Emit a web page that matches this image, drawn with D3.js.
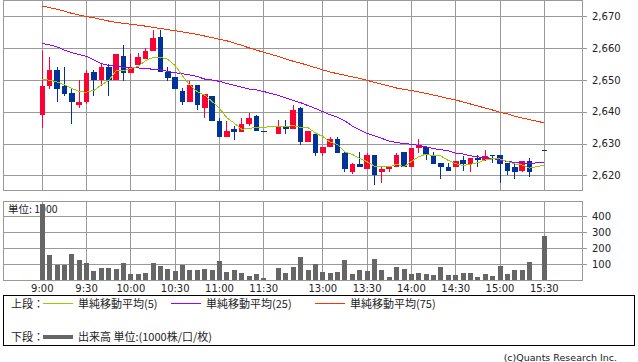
<!DOCTYPE html>
<html>
<head>
<meta charset="utf-8">
<script src="https://cdn.jsdelivr.net/npm/d3@7.9.0/dist/d3.min.js"></script>
<style>
  html, body { margin: 0; padding: 0; background: #fff; }
  svg { display: block; }
  text { font-family: "DejaVu Sans", sans-serif; fill: #222; }
  .jp { font-family: "Noto Sans CJK JP", sans-serif; }
</style>
</head>
<body>
<svg id="chart" width="638" height="362"></svg>
<script>
// x axis: bar slots (5 min), 9:00 = slot 0, 15:30 = slot 68; slots 31 and 67 are empty
const timeLabels = ['9:00', '9:30', '10:00', '10:30', '11:00', '11:30', '13:00', '13:30', '14:00', '14:30', '15:00', '15:30'];
const timeSlots  = [0, 6, 12, 18, 24, 30, 38, 44, 50, 56, 62, 68];
const priceTicks  = [2620, 2630, 2640, 2650, 2660, 2670];
const volumeTicks = [100, 200, 300, 400];

const open = [
  2639, 2648, 2653, 2648, 2646, 2642, 2643, 2652.5, 2650, 2654,
  2650, 2657.5, 2652, 2654.5, 2656.5, 2659, 2663.5, 2652.5, 2651, 2646.5,
  2643, 2648.5, 2641, 2645, 2637, 2632, 2634.5, 2633.5, 2636, 2638.5,
  2634, null, 2633, 2635.5, 2634.5, 2641, 2630.5, 2633, 2627, 2629,
  2631.5, 2627, 2621, 2623.5, 2622, 2626.5, 2621, 2622, 2622.5, 2627.5,
  2622.5, 2628.5, 2629, 2626.5, 2624, 2622.5, 2622.5, 2625, 2623.5, 2625.5,
  2625, 2626.5, 2626.5, 2624, 2622.5, 2621.5, 2624.5, null, 2628
];
const high = [
  2659, 2657, 2654, 2654, 2647, 2650, 2653, 2653, 2655, 2655,
  2658, 2661, 2658, 2658.5, 2660, 2665.5, 2665.5, 2654, 2651, 2647.5,
  2649.5, 2648.5, 2645.5, 2645, 2638, 2637, 2635.5, 2638, 2639.5, 2639,
  2634, null, 2637.5, 2637.5, 2642, 2641.5, 2634, 2633.5, 2629, 2632,
  2632, 2627.5, 2624, 2627.5, 2627, 2626.5, 2622.5, 2622.5, 2627, 2627.5,
  2628.5, 2631.5, 2629, 2627.5, 2624, 2624, 2624.5, 2626, 2625.5, 2626.5,
  2628, 2626.5, 2626.5, 2624, 2624, 2624.5, 2625.5, null, 2628
];
const low = [
  2635, 2647, 2643, 2645, 2636, 2641, 2642.5, 2645, 2648, 2645,
  2650, 2649.5, 2652, 2654.5, 2656.5, 2659, 2652.5, 2649.5, 2647, 2642,
  2643, 2640.5, 2638, 2637, 2632, 2632, 2631, 2633.5, 2635.5, 2634,
  2634, null, 2633, 2633, 2634.5, 2629.5, 2630.5, 2626, 2626, 2629,
  2627, 2621, 2620.5, 2622.5, 2622, 2617, 2617.5, 2621, 2622.5, 2622.5,
  2622.5, 2627, 2625, 2623.5, 2619, 2621.5, 2622.5, 2621.5, 2621, 2622.5,
  2624.5, 2624, 2617.5, 2620, 2619, 2621, 2619.5, null, 2628
];
const close = [
  2648, 2653, 2647, 2645.5, 2643, 2643, 2652, 2650, 2654, 2650,
  2658, 2652, 2654, 2657, 2659, 2663, 2652.5, 2650.5, 2647, 2643,
  2648.5, 2642, 2645.5, 2637, 2632, 2634, 2633.5, 2636, 2638, 2634,
  2634, null, 2635.5, 2634.5, 2640.5, 2630.5, 2634, 2627, 2629, 2631.5,
  2627, 2622, 2623.5, 2622.5, 2626.5, 2620, 2622, 2622.5, 2626.5, 2622.5,
  2628.5, 2629.5, 2626.5, 2623.5, 2622.5, 2621.5, 2624.5, 2623.5, 2625.5, 2625,
  2626, 2626, 2623.5, 2621.5, 2621, 2624.5, 2621, null, 2628
];
// volume, 1000 shares
const volume = [
  475, 158, 96, 96, 164, 127, 108, 58, 77, 77,
  70, 108, 39, 39, 45, 108, 89, 70, 58, 96,
  64, 64, 70, 64, 121, 52, 64, 45, 27, 39,
  14, null, 77, 45, 83, 146, 64, 100, 50, 44,
  50, 127, 37, 62, 56, 133, 62, 21, 83, 69,
  37, 44, 37, 31, 83, 31, 31, 44, 44, 19,
  37, 25, 87, 37, 62, 62, 112, null, 275
];
const ma5 = [
  2650.0, 2649.9, 2649.3, 2648.4, 2647.3, 2646.3, 2646.1, 2646.7, 2648.4, 2649.8,
  2652.8, 2652.8, 2653.6, 2654.2, 2656.0, 2657.0, 2657.1, 2656.4, 2654.4, 2651.2,
  2648.3, 2646.2, 2645.2, 2643.2, 2641.0, 2638.1, 2636.4, 2634.5, 2634.7, 2635.1,
  2635.1, null, 2635.5, 2635.2, 2635.7, 2635.0, 2635.0, 2633.3, 2632.2, 2630.4,
  2629.7, 2627.3, 2626.6, 2625.3, 2624.3, 2622.9, 2622.9, 2622.7, 2623.5, 2622.7,
  2624.4, 2625.9, 2626.7, 2626.1, 2626.1, 2624.7, 2623.7, 2623.1, 2623.5, 2624.0,
  2624.9, 2625.2, 2625.2, 2624.4, 2623.6, 2623.3, 2622.3, null, 2623.2
];
const ma25 = [
  2661.4, 2660.9, 2660.3, 2659.3, 2658.5, 2657.9, 2657.3, 2656.2, 2655.1, 2654.5,
  2654.2, 2653.9, 2653.8, 2653.7, 2653.5, 2653.3, 2653.1, 2652.6, 2652.2, 2651.9,
  2651.5, 2651.0, 2650.2, 2649.9, 2649.5, 2648.8, 2648.3, 2647.7, 2647.1, 2646.8,
  2646.3, null, 2645.1, 2644.3, 2643.5, 2642.8, 2641.9, 2641.0, 2640.0, 2639.0,
  2638.3, 2637.1, 2635.5, 2634.3, 2633.2, 2632.4, 2631.6, 2630.8, 2630.3, 2630.0,
  2629.8, 2629.4, 2629.0, 2628.4, 2628.1, 2627.7, 2627.0, 2626.7, 2626.2, 2625.8,
  2625.6, 2625.3, 2624.8, 2624.4, 2624.1, 2623.9, 2623.8, null, 2624.1
];
const ma75 = [
  2673.1, 2672.6, 2672.1, 2671.5, 2670.8, 2670.3, 2669.8, 2669.4, 2668.9, 2668.4,
  2668.0, 2667.7, 2667.4, 2667.1, 2666.8, 2666.4, 2666.1, 2665.7, 2665.4, 2665.0,
  2664.6, 2664.2, 2663.7, 2663.2, 2662.7, 2662.2, 2661.5, 2660.8, 2660.0, 2659.3,
  2658.6, null, 2657.3, 2656.5, 2655.8, 2655.2, 2654.5, 2653.8, 2653.1, 2652.4,
  2651.9, 2651.4, 2650.9, 2650.4, 2649.8, 2649.2, 2648.6, 2648.0, 2647.4, 2647.0,
  2646.6, 2646.2, 2645.7, 2645.2, 2644.7, 2644.1, 2643.7, 2643.0, 2642.4, 2641.8,
  2641.1, 2640.5, 2639.8, 2639.3, 2638.6, 2638.0, 2637.5, null, 2636.5
];

const UP = '#ff0033', DOWN = '#003399', GRID = '#999999';

const svg = d3.select('#chart');

const left = 3, right = 582;
const top1 = 0, bottom1 = 190;
const top2 = 201, bottom2 = 280;

const x = d3.scaleLinear().domain([0, 68]).range([42.3, 544.3]);
const y = d3.scaleLinear().domain([2675, 2615.44]).range([top1, bottom1]);
const yv = d3.scaleLinear().domain([0, 493.75]).range([bottom2, top2]);

const px = v => Math.floor(v) + 0.5;
const py = v => Math.round(v) + 0.5;

const bars = d3.range(open.length)
  .filter(i => open[i] != null)
  .map(i => ({ i, o: open[i], h: high[i], l: low[i], c: close[i], v: volume[i] }));

// ---- upper panel grid
const g1 = svg.append('g').attr('shape-rendering', 'crispEdges');
g1.selectAll('.hg').data(priceTicks).join('line')
  .attr('x1', left).attr('x2', right + 5)
  .attr('y1', d => py(y(d))).attr('y2', d => py(y(d)))
  .attr('stroke', GRID);
g1.selectAll('.vg').data(timeSlots).join('line')
  .attr('x1', d => px(x(d))).attr('x2', d => px(x(d)))
  .attr('y1', top1).attr('y2', bottom1)
  .attr('stroke', GRID);
g1.append('rect')
  .attr('x', left + 0.5).attr('y', top1 + 0.5)
  .attr('width', right - left).attr('height', bottom1 - top1)
  .attr('fill', 'none').attr('stroke', GRID);

svg.append('g').selectAll('text').data(priceTicks).join('text')
  .attr('x', 592).attr('y', d => y(d) + 3.8)
  .attr('font-size', 10)
  .text(d3.format(','));

// ---- candles
const cg = svg.append('g').attr('shape-rendering', 'crispEdges');
const col = d => d.c > d.o ? UP : DOWN;
cg.selectAll('.wick').data(bars).join('line')
  .attr('x1', d => px(x(d.i))).attr('x2', d => px(x(d.i)))
  .attr('y1', d => Math.round(y(d.h))).attr('y2', d => Math.round(y(d.l)))
  .attr('stroke', col);
cg.selectAll('.body').data(bars).join('rect')
  .attr('x', d => Math.round(x(d.i) - 2.8))
  .attr('width', d => Math.round(x(d.i) + 2.8) - Math.round(x(d.i) - 2.8))
  .attr('y', d => Math.round(y(Math.max(d.o, d.c))))
  .attr('height', d => Math.max(1, Math.round(y(Math.min(d.o, d.c))) - Math.round(y(Math.max(d.o, d.c)))))
  .attr('fill', col);

// ---- moving averages
const maLine = d3.line().x(d => x(d.i)).y(d => y(d.v));
[[ma75, '#ff3300'], [ma25, '#9900ff'], [ma5, '#99cc00']].forEach(([arr, color]) => {
  const pts = arr.map((v, i) => ({ i, v })).filter(d => d.v != null);
  svg.append('path')
    .attr('d', maLine(pts))
    .attr('fill', 'none')
    .attr('stroke', color)
    .attr('stroke-width', 1)
    .attr('shape-rendering', 'crispEdges');
});

// ---- volume panel
const g2 = svg.append('g').attr('shape-rendering', 'crispEdges');
g2.selectAll('.hg').data(volumeTicks).join('line')
  .attr('x1', left).attr('x2', right + 5)
  .attr('y1', d => py(yv(d))).attr('y2', d => py(yv(d)))
  .attr('stroke', GRID);
g2.selectAll('.vg').data(timeSlots).join('line')
  .attr('x1', d => px(x(d))).attr('x2', d => px(x(d)))
  .attr('y1', top2).attr('y2', bottom2)
  .attr('stroke', GRID);
g2.append('rect')
  .attr('x', left + 0.5).attr('y', top2 + 0.5)
  .attr('width', right - left).attr('height', bottom2 - top2)
  .attr('fill', 'none').attr('stroke', GRID);

svg.append('text').attr('class', 'jp')
  .attr('x', 8).attr('y', 213).attr('font-size', 10.5)
  .text('単位: 1000');

svg.append('g').attr('shape-rendering', 'crispEdges')
  .selectAll('rect').data(bars).join('rect')
  .attr('x', d => Math.round(x(d.i) - 2.5))
  .attr('width', 5)
  .attr('y', d => Math.round(yv(d.v)))
  .attr('height', d => bottom2 - Math.round(yv(d.v)))
  .attr('fill', '#666666');

svg.append('g').selectAll('text').data(volumeTicks).join('text')
  .attr('x', 592).attr('y', d => yv(d) + 3.8)
  .attr('font-size', 10)
  .text(d => d);

svg.append('g').selectAll('text').data(timeSlots).join('text')
  .attr('x', d => x(d)).attr('y', 292)
  .attr('text-anchor', 'middle')
  .attr('font-size', 10)
  .text((d, k) => timeLabels[k]);

// ---- legend
const lg = svg.append('g');
lg.append('rect')
  .attr('x', 3.5).attr('y', 295.5).attr('width', 631).attr('height', 50)
  .attr('fill', 'none').attr('stroke', '#000').attr('shape-rendering', 'crispEdges');

const legendRows = [
  { label: '上段：', y: 303.5, items: [
    { x: 43, color: '#99cc00', w: 1, text: '単純移動平均(5)' },
    { x: 171, color: '#9900ff', w: 1, text: '単純移動平均(25)' },
    { x: 315, color: '#ff3300', w: 1, text: '単純移動平均(75)' },
  ]},
  { label: '下段：', y: 337, items: [
    { x: 43, color: '#666666', w: 4, text: '出来高 単位:(1000株/口/枚)' },
  ]},
];
legendRows.forEach(row => {
  lg.append('text').attr('class', 'jp')
    .attr('x', 11).attr('y', row.y + 4).attr('font-size', 11)
    .text(row.label);
  row.items.forEach(it => {
    lg.append('line')
      .attr('x1', it.x).attr('x2', it.x + 30)
      .attr('y1', row.y).attr('y2', row.y)
      .attr('stroke', it.color).attr('stroke-width', it.w)
      .attr('shape-rendering', 'crispEdges');
    lg.append('text').attr('class', 'jp')
      .attr('x', it.x + 35).attr('y', row.y + 4).attr('font-size', 11)
      .text(it.text);
  });
});

svg.append('text')
  .attr('x', 617).attr('y', 361)
  .attr('text-anchor', 'end')
  .attr('font-size', 9.5)
  .attr('fill', '#444')
  .text('(c)Quants Research Inc.');
</script>
</body>
</html>
